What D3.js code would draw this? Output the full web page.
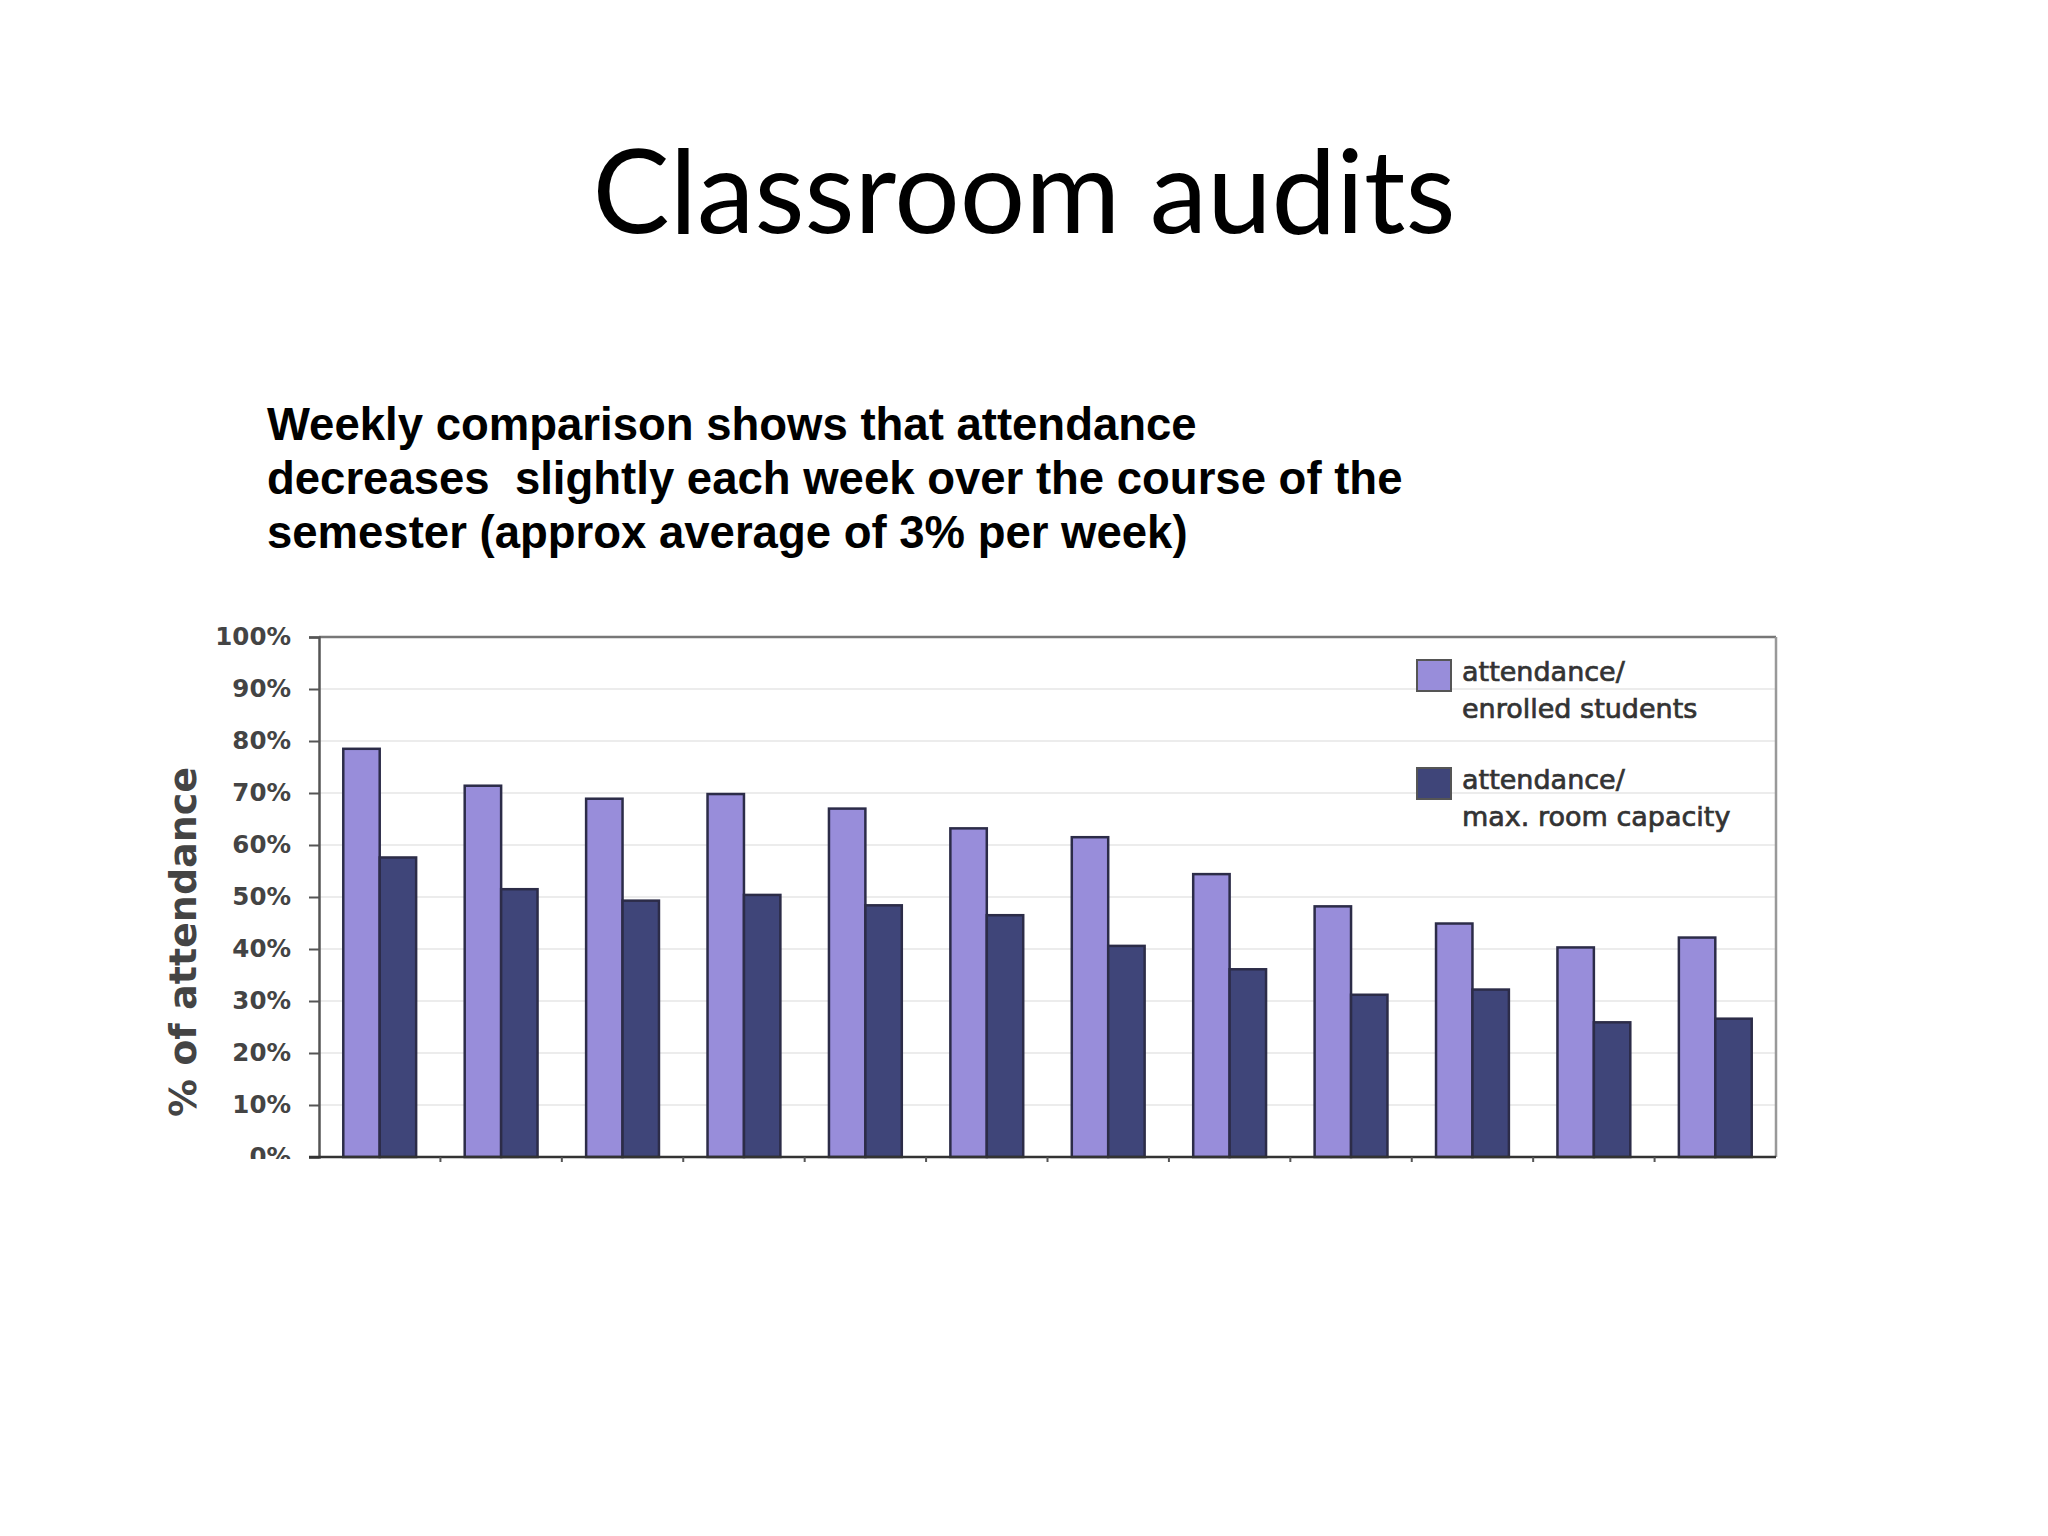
<!DOCTYPE html>
<html>
<head>
<meta charset="utf-8">
<script src="https://cdn.jsdelivr.net/npm/d3@7"></script>
<style>
  html, body { margin: 0; padding: 0; background: #ffffff; }
  svg { display: block; }
</style>
</head>
<body>
<svg id="chart" width="2048" height="1536"></svg>
<script>
// ---- data ----
const titleText = "Classroom audits";
const subtitleLines = [
  "Weekly comparison shows that attendance",
  "decreases  slightly each week over the course of the",
  "semester (approx average of 3% per week)"
];
const weeks = ["1","2","3","4","5","6","7","8","9","10","11","12"];
const enrolledPct = [78.5, 71.4, 68.9, 69.8, 67.0, 63.2, 61.5, 54.4, 48.2, 44.9, 40.3, 42.2];
const capacityPct = [57.6, 51.5, 49.3, 50.4, 48.4, 46.5, 40.6, 36.1, 31.2, 32.2, 25.9, 26.6];
const seriesNames = ["attendance/\nenrolled students", "attendance/\nmax. room capacity"];
const yTicks = [0, 10, 20, 30, 40, 50, 60, 70, 80, 90, 100];
const yTitle = "% of attendance";

// ---- layout ----
const svg = d3.select("#chart");
const plot = { left: 319, right: 1776, top: 637, bottom: 1157 };
const colors = ["#988dda", "#3f4579"];

// title
const title = svg.append("text")
  .attr("x", 1024).attr("y", 233)
  .attr("text-anchor", "middle")
  .style("font-family", "Lato, 'Open Sans', sans-serif")
  .style("font-size", "120px")
  .attr("fill", "#000")
  .text(titleText);
const tw = title.node().getComputedTextLength();
title.style("font-size", (120 * 863 / tw) + "px");

// subtitle
svg.append("g").selectAll("text").data(subtitleLines).join("text")
  .attr("x", 267)
  .attr("y", (d, i) => 440 + i * 54)
  .style("font-family", "'Liberation Sans', Arial, sans-serif")
  .style("font-weight", "bold")
  .style("font-size", "45.5px")
  .style("white-space", "pre")
  .attr("fill", "#000")
  .text(d => d);

// scales
const x0 = d3.scaleBand().domain(weeks).range([plot.left, plot.right]).paddingInner(0.4).paddingOuter(0.2);
const x1 = d3.scaleBand().domain([0, 1]).range([0, x0.bandwidth()]);
const y = d3.scaleLinear().domain([0, 100]).range([plot.bottom, plot.top]);

// gridlines
svg.append("g").selectAll("line").data(yTicks.slice(1, -1)).join("line")
  .attr("x1", plot.left).attr("x2", plot.right)
  .attr("y1", d => y(d)).attr("y2", d => y(d))
  .attr("stroke", "#ececec").attr("stroke-width", 2);

// plot frame (top/right)
svg.append("line").attr("x1", plot.left).attr("x2", plot.right).attr("y1", plot.top).attr("y2", plot.top)
  .attr("stroke", "#777").attr("stroke-width", 2.5);
svg.append("line").attr("x1", plot.right).attr("x2", plot.right).attr("y1", plot.top).attr("y2", plot.bottom)
  .attr("stroke", "#999").attr("stroke-width", 2.5);

// bars
const rows = weeks.map((w, i) => ({ week: w, vals: [enrolledPct[i], capacityPct[i]] }));
const groups = svg.append("g").selectAll("g").data(rows).join("g")
  .attr("transform", d => `translate(${x0(d.week)},0)`);
groups.selectAll("rect").data(d => d.vals.map((v, k) => ({ v, k }))).join("rect")
  .attr("x", d => x1(d.k))
  .attr("width", x1.bandwidth())
  .attr("y", d => y(d.v))
  .attr("height", d => y(0) - y(d.v))
  .attr("fill", d => colors[d.k])
  .attr("stroke", "#2c2c48")
  .attr("stroke-width", 2.5);

// y axis (0% label partly hidden below the baseline, as in the source image)
svg.append("defs").append("clipPath").attr("id", "yclip")
  .append("rect").attr("x", -400).attr("y", 0).attr("width", 500).attr("height", 1159);
const yAxis = svg.append("g")
  .attr("transform", `translate(${plot.left},0)`)
  .attr("clip-path", "url(#yclip)")
  .call(d3.axisLeft(y).tickValues(yTicks).tickFormat(d => d + "%").tickSize(10).tickPadding(18));
yAxis.select(".domain").attr("stroke", "#555").attr("stroke-width", 2.5);
yAxis.selectAll(".tick line").attr("stroke", "#555").attr("stroke-width", 2);
yAxis.selectAll(".tick text")
  .style("font-family", "'DejaVu Sans', Verdana, sans-serif")
  .style("font-weight", "bold")
  .style("font-size", "24.5px")
  .attr("fill", "#444");

// x axis (boundary ticks, no labels)
const xAxis = svg.append("g").attr("transform", `translate(0,${plot.bottom})`);
xAxis.append("line").attr("x1", plot.left - 10).attr("x2", plot.right).attr("y1", 0).attr("y2", 0)
  .attr("stroke", "#333").attr("stroke-width", 2.5);
xAxis.selectAll("line.b").data(weeks.slice(1)).join("line").attr("class", "b")
  .attr("x1", d => x0(d) - x0.step() * x0.paddingInner() / 2)
  .attr("x2", d => x0(d) - x0.step() * x0.paddingInner() / 2)
  .attr("y1", 0).attr("y2", 5)
  .attr("stroke", "#555").attr("stroke-width", 2);

// y title
svg.append("text")
  .attr("transform", "translate(196,942) rotate(-90)")
  .attr("text-anchor", "middle")
  .style("font-family", "'DejaVu Sans', Verdana, sans-serif")
  .style("font-weight", "bold")
  .style("font-size", "38px")
  .attr("fill", "#444")
  .text(yTitle);

// legend
const legend = svg.append("g");
const legendY = [660, 768];
seriesNames.forEach((name, k) => {
  legend.append("rect")
    .attr("x", 1417).attr("y", legendY[k]).attr("width", 34).attr("height", 31)
    .attr("fill", colors[k]).attr("stroke", "#555").attr("stroke-width", 2);
  name.split("\n").forEach((line, j) => {
    legend.append("text")
      .attr("x", 1462).attr("y", legendY[k] + 21 + j * 37)
      .style("font-family", "'DejaVu Sans', Verdana, sans-serif")
      .style("font-size", "27px")
      .attr("fill", "#333")
      .attr("stroke", "#333")
      .attr("stroke-width", 0.7)
      .text(line);
  });
});
</script>
</body>
</html>
